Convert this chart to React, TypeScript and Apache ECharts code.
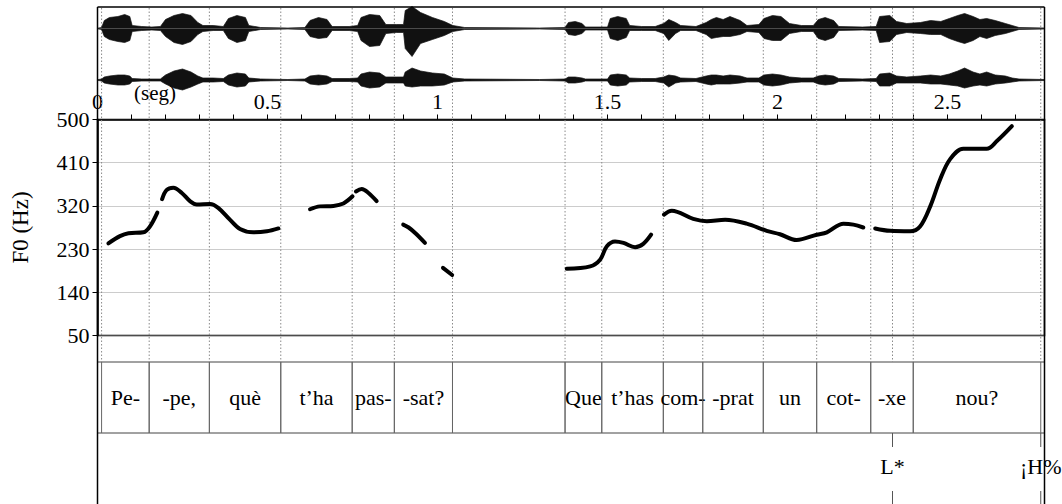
import React, { useEffect, useRef } from 'react';
import * as echarts from 'echarts';

const T_END = 2.785;
const FONT = '"Liberation Serif", "Times New Roman", serif';

// Waveform amplitude envelopes (relative amplitude)
const waveTime = [0.000, 0.012, 0.020, 0.035, 0.060, 0.080, 0.095, 0.102, 0.130, 0.160, 0.185, 0.200, 0.225, 0.250, 0.275, 0.295, 0.310, 0.340, 0.370, 0.385, 0.410, 0.435, 0.445, 0.480, 0.560, 0.610, 0.625, 0.650, 0.675, 0.690, 0.740, 0.765, 0.775, 0.800, 0.830, 0.848, 0.880, 0.900, 0.905, 0.925, 0.950, 0.985, 1.020, 1.045, 1.080, 1.300, 1.375, 1.385, 1.405, 1.425, 1.435, 1.500, 1.508, 1.530, 1.555, 1.565, 1.600, 1.640, 1.665, 1.680, 1.700, 1.715, 1.760, 1.790, 1.805, 1.820, 1.840, 1.860, 1.890, 1.910, 1.945, 1.960, 1.985, 2.010, 2.035, 2.070, 2.105, 2.120, 2.140, 2.165, 2.180, 2.250, 2.290, 2.300, 2.330, 2.350, 2.380, 2.420, 2.450, 2.480, 2.505, 2.530, 2.550, 2.575, 2.595, 2.615, 2.640, 2.670, 2.690, 2.710, 2.785];
const wave1Up = [0.3, 1, 8, 11, 12, 14, 12, 3, 2, 1.5, 2, 9, 13, 15, 13, 6, 3, 3, 2, 10, 13, 11, 3, 1, 0.5, 1, 8, 11, 9, 2, 2, 3, 11, 14, 13, 4, 4, 4, 18, 22, 16, 11, 7, 3, 1, 0.5, 1, 6, 7, 5, 1.5, 1.5, 10, 12, 10, 3, 2, 2, 5, 9, 6, 3, 2, 6, 9, 11, 9, 12, 8, 3, 4, 10, 13, 12, 5, 3, 3, 9, 11, 8, 2, 1.5, 2, 12, 13, 7, 5, 6, 8, 7, 10, 13, 15, 12, 9, 10, 8, 5, 3, 1, 0.5];
const wave1Down = [0.3, 1, 8, 11, 13, 14, 12, 3, 2, 1.5, 2, 8, 14, 16, 13, 6, 3, 2, 2, 10, 14, 12, 3, 1, 0.5, 1, 8, 10, 9, 2, 2, 3, 12, 18, 17, 5, 4, 4, 20, 28, 15, 11, 7, 3, 1, 0.5, 1, 6, 7, 5, 1.5, 1.5, 10, 12, 9, 2, 2, 2, 5, 12, 5, 2, 2, 6, 10, 9, 8, 8, 6, 3, 4, 10, 12, 12, 5, 3, 3, 10, 12, 9, 2, 1.5, 2, 14, 13, 6, 4, 5, 6, 6, 10, 13, 15, 12, 8, 10, 7, 5, 3, 1, 0.5];
const wave2Up = [0.3, 1, 3, 4, 5, 5, 4, 1.5, 1, 1, 1, 5, 9, 11, 8, 4, 2, 2, 1.5, 5, 7, 6, 2, 1, 0.5, 1, 4, 5, 4, 1.5, 1.5, 2, 6, 8, 7, 3, 3, 3, 8, 12, 9, 7, 6, 2, 1, 0.5, 1, 3, 3, 2, 1, 1, 5, 6, 5, 2, 1.5, 1.5, 3, 5, 4, 2, 1.5, 4, 5, 5, 4, 5, 4, 2, 2, 5, 6, 5, 3, 2, 2, 4, 5, 4, 1.5, 1, 1.5, 6, 7, 4, 3, 4, 5, 4, 6, 9, 12, 8, 6, 8, 5, 4, 2, 1, 0.5];
const wave2Down = [0.3, 1, 3, 4, 5, 5, 4, 1.5, 1, 1, 1, 4, 8, 10, 7, 4, 2, 2, 1.5, 5, 7, 6, 2, 1, 0.5, 1, 4, 5, 4, 1.5, 1.5, 2, 6, 8, 7, 3, 3, 3, 6, 7, 6, 6, 5, 2, 1, 0.5, 1, 3, 3, 2, 1, 1, 5, 6, 5, 2, 1.5, 1.5, 3, 7, 3, 2, 1.5, 4, 5, 4, 4, 4, 3, 2, 2, 5, 6, 5, 3, 2, 2, 4, 5, 4, 1.5, 1, 1.5, 6, 6, 3, 3, 3, 4, 4, 5, 6, 8, 6, 5, 6, 4, 3, 2, 1, 0.5];

// F0 contour (Hz); null marks an unvoiced gap
const f0Time = [0.032, 0.066, 0.091, 0.135, 0.154, 0.176, null, 0.190, 0.203, 0.223, 0.248, 0.272, 0.292, 0.331, 0.355, 0.390, 0.419, 0.458, 0.498, 0.532, null, 0.625, 0.654, 0.694, 0.723, 0.750, null, 0.760, 0.777, 0.797, 0.821, null, 0.899, 0.915, 0.935, 0.963, null, 1.016, 1.043, null, 1.380, 1.449, 1.478, 1.498, 1.522, 1.547, 1.581, 1.605, 1.628, null, 1.666, 1.689, 1.752, 1.792, 1.846, 1.909, 1.968, 2.007, 2.056, 2.115, 2.145, 2.194, 2.223, 2.252, null, 2.287, 2.331, 2.390, 2.419, 2.449, 2.478, 2.507, 2.546, 2.615, 2.645, 2.689];
const f0Hz = [242, 257, 263, 265, 277, 306, null, 334, 353, 358, 347, 330, 323, 324, 316, 291, 272, 265, 267, 273, null, 313, 319, 320, 325, 340, null, 350, 355, 347, 330, null, 281, 275, 263, 243, null, 191, 176, null, 189, 194, 208, 236, 246, 243, 234, 241, 260, null, 302, 310, 293, 288, 291, 283, 268, 261, 249, 260, 265, 283, 281, 275, null, 273, 268, 267, 277, 319, 375, 417, 439, 439, 455, 486];

// Syllable tier
const wordStart = [0.012, 0.152, 0.329, 0.539, 0.749, 0.873, 1.044, 1.375, 1.483, 1.664, 1.780, 1.958, 2.115, 2.274, 2.399];
const wordEnd = [0.152, 0.329, 0.539, 0.749, 0.873, 1.044, 1.375, 1.483, 1.664, 1.780, 1.958, 2.115, 2.274, 2.399, 2.774];
const wordLabels = ['Pe-', '-pe,', 'què', 't\u2019ha', 'pas-', '-sat?', '', 'Que', 't\u2019has', 'com-', '-prat', 'un', 'cot-', '-xe', 'nou?'];

// Tone tier
const toneTime = [2.338, 2.774];
const toneLabels = ['L*', '\u00a1H%'];

// Axis labels
const timeLabelValues = [0, 0.5, 1, 1.5, 2, 2.5];
const F0_MIN = 50;
const F0_MAX = 500;
const F0_STEP = 90;

const LEFT = 97.5;
const WIDTH = 947;

function buildF0Segments() {
  const segs: number[][][] = [];
  let cur: number[][] = [];
  f0Time.forEach((t, i) => {
    if (t === null || f0Hz[i] === null) {
      if (cur.length) segs.push(cur);
      cur = [];
    } else {
      cur.push([t as number, f0Hz[i] as number]);
    }
  });
  if (cur.length) segs.push(cur);
  return segs;
}

export default function App() {
  const ref = useRef<HTMLDivElement>(null);
  useEffect(() => {
    if (!ref.current) return;
    const chart = echarts.init(ref.current, null, { renderer: 'svg' });

    const hiddenX = (gi: number) => ({ gridIndex: gi, type: 'value', min: 0, max: T_END, show: false });
    const boundaries = Array.from(new Set([...wordStart, ...wordEnd, ...toneTime])).sort((a, b) => a - b);

    const waveSeries = (xi: number, vals: number[], sign: number) => ({
      type: 'line',
      xAxisIndex: xi,
      yAxisIndex: xi,
      data: waveTime.map((t, i) => [t, sign * vals[i]]),
      symbol: 'none',
      lineStyle: { color: '#111', width: 0.7 },
      areaStyle: { color: '#111', opacity: 1 },
      clip: false,
      silent: true,
      z: 2,
    });

    const f0Series = buildF0Segments().map((seg) => ({
      type: 'line',
      xAxisIndex: 2,
      yAxisIndex: 2,
      data: seg,
      symbol: 'none',
      smooth: 0.35,
      lineStyle: { color: '#000', width: 4, cap: 'round' },
      silent: true,
      z: 5,
    }));

    const option: any = {
      animation: false,
      grid: [
        { left: LEFT, width: WIDTH, top: 6.5, height: 44 },
        { left: LEFT, width: WIDTH, top: 58, height: 44 },
        { left: LEFT, width: WIDTH, top: 119.5, height: 216, show: true, borderColor: '#000', borderWidth: 1.5 },
        { left: LEFT, width: WIDTH, top: 8, height: 354 },
        { left: LEFT, width: WIDTH, top: 362, height: 71, show: true, borderColor: '#444', borderWidth: 1 },
        { left: LEFT, width: WIDTH, top: 433, height: 71 },
      ],
      xAxis: [
        hiddenX(0),
        hiddenX(1),
        {
          gridIndex: 2,
          type: 'value',
          min: 0,
          max: T_END,
          interval: 0.1,
          position: 'top',
          axisLine: { show: true, lineStyle: { color: '#000', width: 1.5 } },
          axisTick: { show: true, length: 5, lineStyle: { color: '#000', width: 1 } },
          axisLabel: {
            margin: 7,
            fontFamily: FONT,
            fontSize: 22,
            color: '#000',
            showMaxLabel: false,
            formatter: (v: number) => (timeLabelValues.some((l) => Math.abs(l - v) < 1e-6) ? String(v) : ''),
          },
          splitLine: { show: false },
        },
        hiddenX(3),
        hiddenX(4),
        hiddenX(5),
      ],
      yAxis: [
        { gridIndex: 0, type: 'value', min: -22, max: 22, show: false },
        { gridIndex: 1, type: 'value', min: -22, max: 22, show: false },
        {
          gridIndex: 2,
          type: 'value',
          min: F0_MIN,
          max: F0_MAX,
          interval: F0_STEP,
          axisLine: { show: true, lineStyle: { color: '#000', width: 1.5 } },
          axisTick: { show: true, length: 5, lineStyle: { color: '#000', width: 1 } },
          axisLabel: { margin: 8, fontFamily: FONT, fontSize: 22, color: '#000' },
          splitLine: { show: true, lineStyle: { type: 'dotted', color: '#999', width: 1 } },
          name: 'F0 (Hz)',
          nameLocation: 'middle',
          nameGap: 66,
          nameTextStyle: { fontFamily: FONT, fontSize: 23, color: '#000' },
        },
        { gridIndex: 3, type: 'value', min: 0, max: 1, show: false },
        { gridIndex: 4, type: 'value', min: 0, max: 1, show: false },
        { gridIndex: 5, type: 'value', min: 0, max: 1, show: false },
      ],
      graphic: [
        { type: 'line', shape: { x1: LEFT, y1: 7, x2: LEFT, y2: 504 }, style: { stroke: '#000', lineWidth: 1.5 }, z: 100 },
        { type: 'line', shape: { x1: LEFT + WIDTH, y1: 7, x2: LEFT + WIDTH, y2: 504 }, style: { stroke: '#000', lineWidth: 1.5 }, z: 100 },
        { type: 'line', shape: { x1: LEFT, y1: 7, x2: LEFT + WIDTH, y2: 7 }, style: { stroke: '#000', lineWidth: 1.5 }, z: 100 },
        {
          type: 'text',
          x: 155,
          y: 93,
          style: { text: '(seg)', align: 'center', verticalAlign: 'middle', fontFamily: FONT, fontSize: 21, fill: '#000' },
          z: 100,
        },
      ],
      series: [
        waveSeries(0, wave1Up, 1),
        waveSeries(0, wave1Down, -1),
        waveSeries(1, wave2Up, 1),
        waveSeries(1, wave2Down, -1),
        ...f0Series,
        {
          type: 'custom',
          xAxisIndex: 3,
          yAxisIndex: 3,
          silent: true,
          z: 1,
          data: boundaries.map((t) => [t, 0]),
          renderItem: (params: any, api: any) => {
            const t = api.value(0);
            const a = api.coord([t, 1]);
            const b = api.coord([t, 0]);
            return {
              type: 'line',
              shape: { x1: a[0], y1: a[1], x2: b[0], y2: b[1] },
              style: { stroke: '#8a8a8a', lineWidth: 1, lineDash: [1.5, 2] },
            };
          },
        },
        {
          type: 'custom',
          xAxisIndex: 4,
          yAxisIndex: 4,
          silent: true,
          z: 3,
          data: wordStart.map((s, i) => [s, wordEnd[i], i]),
          renderItem: (params: any, api: any) => {
            const s = api.value(0);
            const e = api.value(1);
            const idx = api.value(2);
            const a = api.coord([s, 1]);
            const b = api.coord([e, 0]);
            return {
              type: 'group',
              children: [
                { type: 'line', shape: { x1: a[0], y1: a[1], x2: a[0], y2: b[1] }, style: { stroke: '#666', lineWidth: 1 } },
                { type: 'line', shape: { x1: b[0], y1: a[1], x2: b[0], y2: b[1] }, style: { stroke: '#666', lineWidth: 1 } },
                {
                  type: 'text',
                  style: {
                    text: wordLabels[idx],
                    x: (a[0] + b[0]) / 2,
                    y: (a[1] + b[1]) / 2,
                    align: 'center',
                    verticalAlign: 'middle',
                    fontFamily: FONT,
                    fontSize: 22,
                    fill: '#000',
                  },
                },
              ],
            };
          },
        },
        {
          type: 'custom',
          xAxisIndex: 5,
          yAxisIndex: 5,
          silent: true,
          z: 3,
          data: toneTime.map((t, i) => [t, i]),
          renderItem: (params: any, api: any) => {
            const t = api.value(0);
            const idx = api.value(1);
            const a = api.coord([t, 1]);
            const b = api.coord([t, 0]);
            const y0 = a[1];
            return {
              type: 'group',
              children: [
                { type: 'line', shape: { x1: a[0], y1: y0, x2: a[0], y2: y0 + 14 }, style: { stroke: '#555', lineWidth: 1 } },
                { type: 'line', shape: { x1: a[0], y1: y0 + 58, x2: a[0], y2: b[1] }, style: { stroke: '#555', lineWidth: 1 } },
                {
                  type: 'text',
                  style: {
                    text: toneLabels[idx],
                    x: a[0],
                    y: y0 + 33,
                    align: 'center',
                    verticalAlign: 'middle',
                    fontFamily: FONT,
                    fontSize: 22,
                    fill: '#000',
                  },
                },
              ],
            };
          },
        },
      ],
    };

    chart.setOption(option);
    return () => chart.dispose();
  }, []);

  return (
    <div
      ref={ref}
      style={{ position: 'fixed', left: 0, top: 0, width: 1062, height: 504, background: '#fff' }}
    />
  );
}
